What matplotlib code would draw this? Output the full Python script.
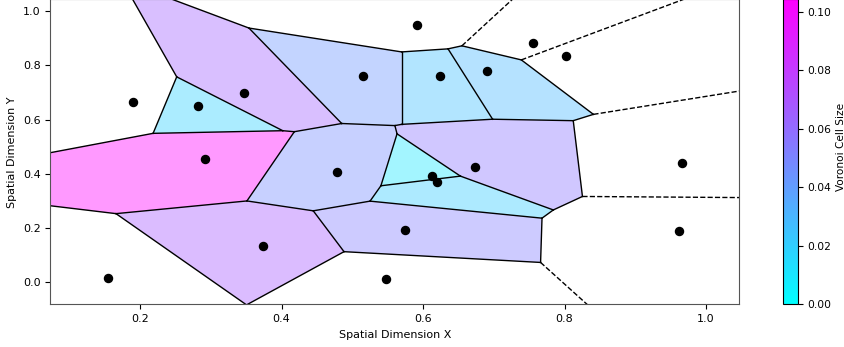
import numpy as np
import matplotlib
matplotlib.use("Agg")
import matplotlib.pyplot as plt
import matplotlib.tri as mtri
from matplotlib import cm, colors

# ---- data ----
px = [0.1897, 0.2820, 0.3470, 0.5152, 0.5920, 0.2923, 0.4789, 0.3734, 0.1543, 0.5481,
      0.5739, 0.6245, 0.6904, 0.7550, 0.8017, 0.6739, 0.6123, 0.6193, 0.9660, 0.9614]
py = [0.6646, 0.6498, 0.6989, 0.7616, 0.9500, 0.4556, 0.4066, 0.1349, 0.0147, 0.0122,
      0.1928, 0.7616, 0.7776, 0.8821, 0.8341, 0.4261, 0.3907, 0.3686, 0.4397, 0.1880]
cbar_ticks = [0.00, 0.02, 0.04, 0.06, 0.08, 0.10]

pts = np.column_stack([px, py])
n = len(pts)

# ---- Voronoi diagram from Delaunay triangulation ----
tri = mtri.Triangulation(pts[:, 0], pts[:, 1])
T = tri.triangles


def circumcenter(a, b, c):
    d = 2 * (a[0] * (b[1] - c[1]) + b[0] * (c[1] - a[1]) + c[0] * (a[1] - b[1]))
    ux = ((a @ a) * (b[1] - c[1]) + (b @ b) * (c[1] - a[1]) + (c @ c) * (a[1] - b[1])) / d
    uy = ((a @ a) * (c[0] - b[0]) + (b @ b) * (a[0] - c[0]) + (c @ c) * (b[0] - a[0])) / d
    return np.array([ux, uy])


verts = np.array([circumcenter(*pts[t]) for t in T])

# edges -> triangles
edge_tris = {}
for ti, t in enumerate(T):
    for k in range(3):
        e = tuple(sorted((t[k], t[(k + 1) % 3])))
        edge_tris.setdefault(e, []).append(ti)

hull_pts = set()
for e, ts in edge_tris.items():
    if len(ts) == 1:
        hull_pts.update(e)

# finite cells
cells = {}
for i in range(n):
    if i in hull_pts:
        continue
    tis = [ti for ti, t in enumerate(T) if i in t]
    vv = verts[tis]
    ang = np.arctan2(vv[:, 1] - pts[i, 1], vv[:, 0] - pts[i, 0])
    cells[i] = vv[np.argsort(ang)]


def poly_area(p):
    x, y = p[:, 0], p[:, 1]
    return 0.5 * abs(np.dot(x, np.roll(y, 1)) - np.dot(y, np.roll(x, 1)))


areas = {i: poly_area(p) for i, p in cells.items()}
norm = colors.Normalize(vmin=0, vmax=max(areas.values()))
cmap = plt.get_cmap("cool")
mapper = cm.ScalarMappable(norm=norm, cmap=cmap)

# ---- figure / axes layout ----
W, H = 844, 347
fig = plt.figure(figsize=(W / 100, H / 100), dpi=100)

ptp = pts.max(axis=0) - pts.min(axis=0)
xlim = (pts[:, 0].min() - 0.1 * ptp[0], pts[:, 0].max() + 0.1 * ptp[0])
ylim = (pts[:, 1].min() - 0.1 * ptp[1], pts[:, 1].max() + 0.1 * ptp[1])

# pixel calibration: x 0.2 -> 140 px, 1.0 -> 706 px ; y 1.0 -> 11 px, 0.0 -> 282.3 px (from top)
sx = (706 - 140) / 0.8
x0 = 140 - 0.2 * sx
sy = (282.3 - 11) / 1.0
y0 = 282.3
left = x0 + xlim[0] * sx
right = x0 + xlim[1] * sx
bot = y0 - ylim[0] * sy
top = y0 - ylim[1] * sy
ax = fig.add_axes([left / W, 1 - bot / H, (right - left) / W, (bot - top) / H])
cax = fig.add_axes([782.7 / W, 1 - bot / H, 15.6 / W, (bot - top) / H])

for i, p in cells.items():
    ax.fill(p[:, 0], p[:, 1], color=mapper.to_rgba(areas[i]), alpha=0.4, lw=0)

center = pts.mean(axis=0)
span = ptp.max()
for e, ts in edge_tris.items():
    if len(ts) == 2:
        a, b = verts[ts[0]], verts[ts[1]]
        ax.plot([a[0], b[0]], [a[1], b[1]], color="k", lw=1.0)
    else:
        v = verts[ts[0]]
        t = pts[e[1]] - pts[e[0]]
        t = t / np.linalg.norm(t)
        nrm = np.array([-t[1], t[0]])
        mid = pts[list(e)].mean(axis=0)
        d = np.sign(np.dot(mid - center, nrm)) * nrm
        far = v + d * span
        ax.plot([v[0], far[0]], [v[1], far[1]], color="k", lw=1.0, ls="--")

ax.plot(pts[:, 0], pts[:, 1], "o", color="k", markersize=5.8)
ax.set_xlim(*xlim)
ax.set_ylim(*ylim)
ax.set_xlabel("Spatial Dimension X", fontsize=8)
ax.set_ylabel("Spatial Dimension Y", fontsize=8)
ax.tick_params(labelsize=8)
for s in ax.spines.values():
    s.set_color("#555555")

cb = fig.colorbar(mapper, cax=cax)
cb.set_ticks(cbar_ticks)
cb.ax.set_yticklabels([f"{t:.2f}" for t in cbar_ticks])
cb.ax.tick_params(labelsize=7.7, pad=3)
cb.set_label("Voronoi Cell Size", fontsize=7.6)
cb.ax.yaxis.set_label_coords((835.5 - 782.7) / 15.6, 0.515)

fig.savefig("out.png", dpi=100)
